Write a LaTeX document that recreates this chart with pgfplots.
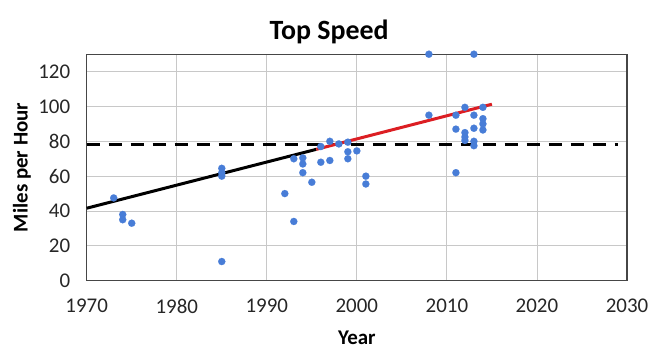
\documentclass[border=0pt]{standalone}
\usepackage{pgfplots}
\pgfplotsset{compat=1.18}
\usepackage{fontspec}
\setmainfont{Carlito}
\definecolor{ptblue}{RGB}{72,125,215}
\definecolor{trendred}{RGB}{220,30,35}
\definecolor{gridgray}{RGB}{200,200,200}
\definecolor{axisgray}{RGB}{70,70,70}
\begin{document}
\begin{tikzpicture}
\path[use as bounding box] (-86.7bp,-73.3bp) rectangle (573.3bp,280.7bp);
\begin{axis}[at={(0,0)}, anchor=south west,
  width=540.3bp, height=226.5bp, scale only axis,
  xmin=1970, xmax=2030, ymin=0, ymax=130,
  xtick={1970,1980,...,2030}, ytick={0,20,...,120},
  grid=major, major grid style={gridgray, line width=0.9bp},
  axis line style={axisgray, line width=1.3bp},
  major tick length=0,
  /pgf/number format/assume math mode=true,
  /pgf/number format/1000 sep={},
  tick label style={font=\fontsize{21}{21}\selectfont, text=black!85},
  xticklabel style={yshift=-15bp},
  yticklabel style={xshift=-13bp},
  xlabel={Year}, ylabel={Miles per Hour},
  label style={font=\bfseries\fontsize{21}{21}\selectfont},
  xlabel style={at={(axis description cs:0.5,-0.2539)}, anchor=center},
  ylabel style={at={(axis description cs:-0.1197,0.5)}, anchor=center},
  title={Top Speed},
  every axis title shift=0pt,
  title style={font=\bfseries\fontsize{28}{28}\selectfont, at={(axis description cs:0.4488,1.0658)}, anchor=base},
  clip=false,
]
\addplot[black, line width=3.2bp, dash pattern=on 13bp off 9bp] coordinates {(1970,78) (2029,78)};
\addplot[black, line width=3bp] coordinates {(1970,41.6) (1995.5,75.4)};
\addplot[trendred, line width=3bp] coordinates {(1995.5,75.4) (2015,101.3)};
\addplot[only marks, mark=*, mark size=3.6bp, mark options={fill=ptblue, draw=ptblue, line width=0.1bp}] table {
x y
1973 47.5
1974 38
1974 35
1975 33
1985 64.5
1985 62
1985 60
1985 11
1992 50
1993 34
1993 70
1994 70.5
1994 67
1994 62
1995 56.5
1996 68
1996 77
1997 80
1997 69
1998 78.5
1999 79.5
1999 74
1999 70
2000 74.5
2001 60
2001 55.5
2008 130
2013 130
2008 95
2011 95
2011 87
2011 62
2012 99.5
2012 85
2012 82.5
2012 80.5
2013 95
2013 87.5
2013 80
2013 77.5
2014 99.5
2014 93
2014 90
2014 86.5
};
\end{axis}
\end{tikzpicture}
\end{document}
